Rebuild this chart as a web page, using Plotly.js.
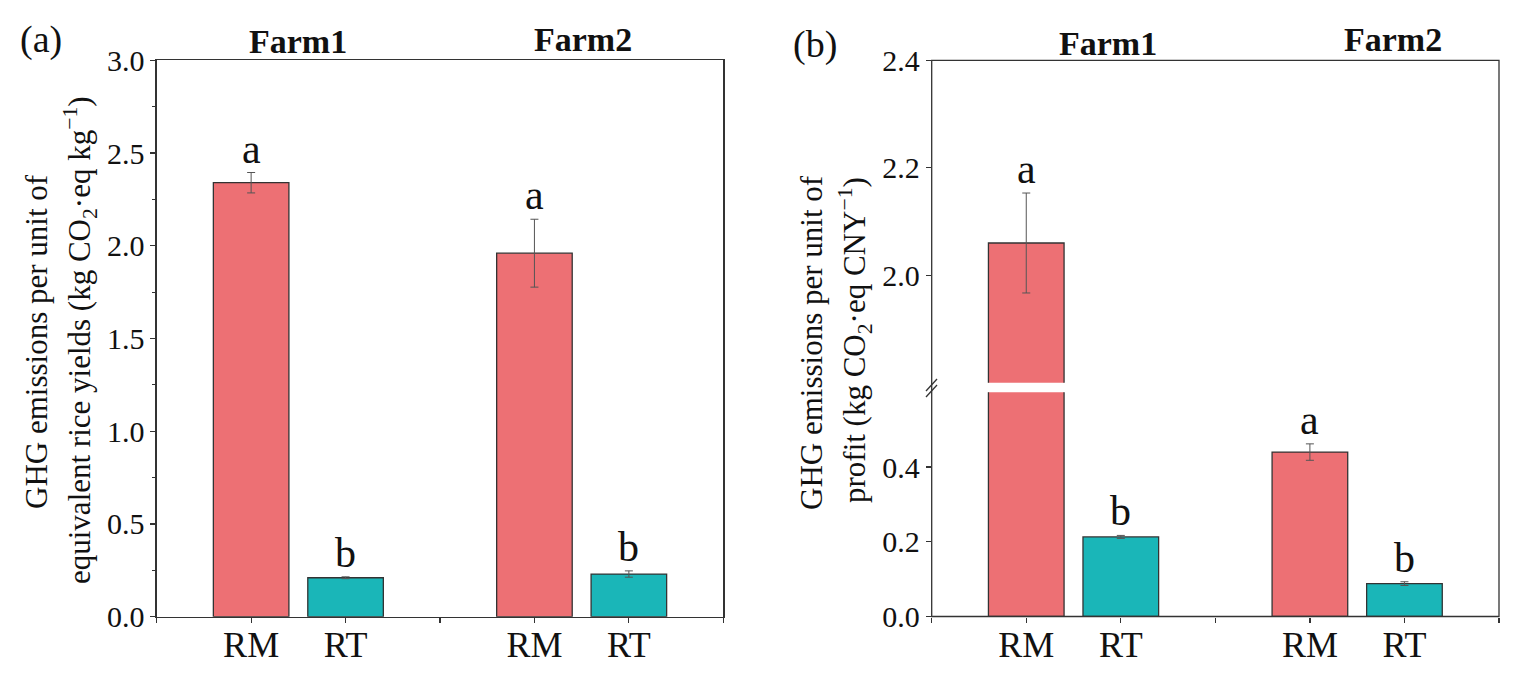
<!DOCTYPE html>
<html>
<head>
<meta charset="utf-8">
<script src="https://cdn.plot.ly/plotly-3.0.1.min.js"></script>
<style>html,body{margin:0;padding:0;background:#fff;}#chart{width:1518px;height:675px;}</style>
</head>
<body>
<div id="chart"></div>
<script>
// ---- data ----
const farms = ['Farm1', 'Farm2'];
const treatments = ['RM', 'RT'];
const panelLabels = ['(a)', '(b)'];

// (a) GHG emissions per unit of equivalent rice yields
const yieldRM = [2.34, 1.96];
const yieldRMErr = [0.055, 0.183];
const yieldRT = [0.21, 0.23];
const yieldRTErr = [0.005, 0.017];
const yieldRMLetters = ['a', 'a'];
const yieldRTLetters = ['b', 'b'];

// (b) GHG emissions per unit of profit
const profitRM = [2.06, 0.44];
const profitRMErr = [0.093, 0.022];
const profitRT = [0.213, 0.088];
const profitRTErr = [0.004, 0.005];
const profitRMLetters = ['a', 'a'];
const profitRTLetters = ['b', 'b'];

const yTitleA = ['GHG emissions per unit of', 'equivalent rice yields (kg CO<sub>2</sub>·eq kg<sup>−1</sup>)'];
const yTitleB = ['GHG emissions per unit of', 'profit (kg CO<sub>2</sub>·eq CNY<sup>−1</sup>)'];

// ---- helpers ----
const W = 1518, H = 675;
const px = x => x / W;
const py = y => 1 - y / H;
const FONT = '"Liberation Serif", "Times New Roman", serif';
const RED = '#ED7074';
const TEAL = '#1AB6B8';
const LINE = '#333333';

// bar positions: group index * 3 + treatment index
const xRM = farms.map((f, i) => i * 3);
const xRT = farms.map((f, i) => i * 3 + 1);
const tickvals = [xRM[0], xRT[0], xRM[1], xRT[1]];
const ticktext = [treatments[0], treatments[1], treatments[0], treatments[1]];
const sepTicks = [-1, 2, 5];

function barTrace(x, y, err, color, xa, ya) {
  return {
    type: 'bar', x: x, y: y, width: 0.8, xaxis: xa, yaxis: ya,
    marker: {color: color, line: {color: LINE, width: 1.3}},
    error_y: {type: 'data', array: err, visible: true, color: '#555', thickness: 1, width: 4},
    hoverinfo: 'skip'
  };
}

const data = [
  barTrace(xRM, yieldRM, yieldRMErr, RED, 'x', 'y'),
  barTrace(xRT, yieldRT, yieldRTErr, TEAL, 'x', 'y'),
  barTrace(xRM, profitRM, profitRMErr, RED, 'x2', 'y2'),
  barTrace(xRT, profitRT, profitRTErr, TEAL, 'x2', 'y2'),
  barTrace(xRM, profitRM, profitRMErr, RED, 'x3', 'y3'),
  barTrace(xRT, profitRT, profitRTErr, TEAL, 'x3', 'y3')
];

const annotations = [];
function letter(x, y, text, xa, ya) {
  annotations.push({x: x, y: y, xref: xa, yref: ya, text: text, showarrow: false,
    xanchor: 'center', yanchor: 'bottom', yshift: -1, font: {family: FONT, size: 42, color: '#111'}});
}
farms.forEach((f, i) => {
  letter(xRM[i], yieldRM[i] + yieldRMErr[i], yieldRMLetters[i], 'x', 'y');
  letter(xRT[i], yieldRT[i] + yieldRTErr[i], yieldRTLetters[i], 'x', 'y');
  const top = profitRM[i] + profitRMErr[i];
  if (top > 0.6) letter(xRM[i], top, profitRMLetters[i], 'x3', 'y3');
  else letter(xRM[i], top, profitRMLetters[i], 'x2', 'y2');
  letter(xRT[i], profitRT[i] + profitRTErr[i], profitRTLetters[i], 'x2', 'y2');
});

function paperText(x, y, text, size, extra) {
  annotations.push(Object.assign({x: px(x), y: py(y), xref: 'paper', yref: 'paper', text: text,
    showarrow: false, xanchor: 'center', yanchor: 'middle', font: {family: FONT, size: size, color: '#111'}}, extra || {}));
}
// farm headers
paperText(298, 42, '<b>' + farms[0] + '</b>', 34);
paperText(583, 39, '<b>' + farms[1] + '</b>', 34);
paperText(1108, 43, '<b>' + farms[0] + '</b>', 34);
paperText(1393, 39, '<b>' + farms[1] + '</b>', 34);
// panel labels
paperText(41, 40, panelLabels[0], 38);
paperText(815, 44, panelLabels[1], 38);
// y titles
paperText(36, 342, yTitleA[0], 31, {textangle: -90});
paperText(80, 340, yTitleA[1], 31, {textangle: -90});
paperText(811, 342, yTitleB[0], 31, {textangle: -90});
paperText(855, 340, yTitleB[1], 31, {textangle: -90});

const xCommon = {
  range: [-1, 5], tickmode: 'array', tickvals: tickvals, ticktext: ticktext,
  ticks: 'outside', ticklen: 5, tickwidth: 1.2, tickcolor: LINE, showgrid: false, zeroline: false,
  ticklabelstandoff: -9,
  minor: {tickmode: 'array', tickvals: sepTicks, ticks: 'outside', ticklen: 5, tickwidth: 1.2, tickcolor: LINE, showgrid: false},
  tickfont: {family: FONT, size: 36, color: '#111'}, fixedrange: true
};
const yCommon = {
  ticks: 'outside', ticklen: 5, tickwidth: 1.2, tickcolor: LINE, showgrid: false, zeroline: false,
  tickformat: '.1f', tickfont: {family: FONT, size: 30, color: '#111'}, fixedrange: true
};

const layout = {
  width: W, height: H, margin: {l: 0, r: 0, t: 0, b: 0},
  paper_bgcolor: '#fff', plot_bgcolor: 'rgba(0,0,0,0)', showlegend: false, barmode: 'overlay',
  font: {family: FONT, color: '#111'},
  xaxis: Object.assign({}, xCommon, {domain: [px(156.7), px(723.3)], anchor: 'y',
    showline: true, linecolor: LINE, linewidth: 1.3, mirror: true}),
  yaxis: Object.assign({}, yCommon, {domain: [py(616.7), py(60.3)], range: [0, 3], dtick: 0.5, tick0: 0,
    anchor: 'x', showline: true, linecolor: LINE, linewidth: 1.3, mirror: true,
    minor: {dtick: 0.25, ticks: 'outside', ticklen: 3, tickcolor: LINE, tickwidth: 1.2}}),
  xaxis2: Object.assign({}, xCommon, {domain: [px(931.7), px(1499)], anchor: 'y2', showline: false}),
  yaxis2: Object.assign({}, yCommon, {domain: [py(616.5), py(392.3)], range: [0, 0.6],
    tickmode: 'array', tickvals: [0, 0.2, 0.4], anchor: 'x2', showline: false}),
  xaxis3: {domain: [px(931.7), px(1499)], range: [-1, 5], anchor: 'y3', visible: false, fixedrange: true},
  yaxis3: Object.assign({}, yCommon, {domain: [py(382.7), py(60.3)], range: [1.8, 2.4],
    tickmode: 'array', tickvals: [2.0, 2.2, 2.4], anchor: 'x3', showline: false}),
  annotations: annotations,
  shapes: [
    {type: 'rect', xref: 'paper', yref: 'paper', x0: px(931.7), x1: px(1499), y0: py(616.5), y1: py(60.3),
      line: {color: LINE, width: 1.3}, fillcolor: 'rgba(0,0,0,0)', layer: 'above'},
    {type: 'line', xref: 'paper', yref: 'paper', x0: px(926), y0: py(391), x1: px(937), y1: py(379),
      line: {color: LINE, width: 1.3}},
    {type: 'line', xref: 'paper', yref: 'paper', x0: px(926), y0: py(397), x1: px(937), y1: py(385),
      line: {color: LINE, width: 1.3}}
  ]
};

Plotly.newPlot('chart', data, layout, {displayModeBar: false, staticPlot: true});
</script>
</body>
</html>
